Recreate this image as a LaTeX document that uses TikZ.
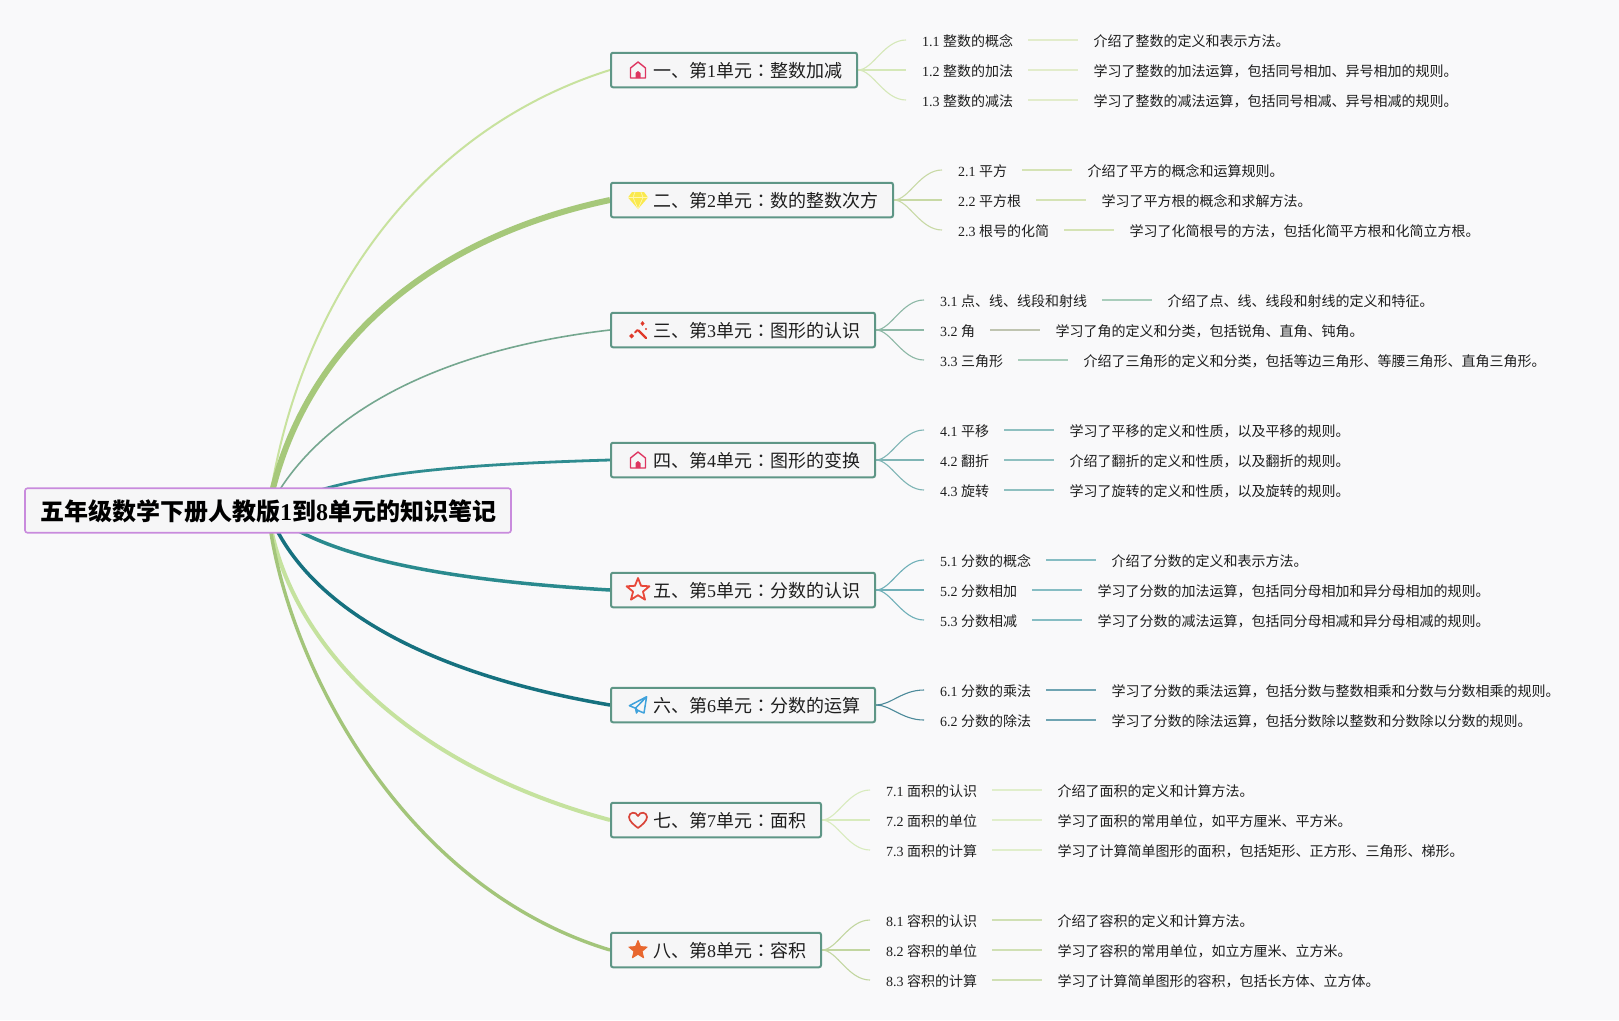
\documentclass[tikz,border=0pt]{standalone}
\usepackage{fontspec}
\setmainfont{Noto Sans CJK SC}
\newfontfamily\lat{Liberation Serif}
\newfontfamily\jpf{Noto Sans CJK JP}
\usetikzlibrary{backgrounds}
\definecolor{bgc}{HTML}{F9F9FA}
\definecolor{boxfill}{HTML}{F6F6F7}
\definecolor{boxline}{HTML}{5E9686}
\definecolor{rootline}{HTML}{C98BDD}
\definecolor{ink}{HTML}{1E1E1E}
\definecolor{bl1}{HTML}{D5E8B8}\definecolor{ln1}{HTML}{E2ECCB}
\definecolor{bl2}{HTML}{C8D9A5}\definecolor{ln2}{HTML}{D5E3B5}
\definecolor{bl3}{HTML}{8DB8A6}\definecolor{ln3}{HTML}{A9CDBB}\definecolor{ln3b}{HTML}{BFC4B0}
\definecolor{bl4}{HTML}{7FB5B5}\definecolor{ln4}{HTML}{8FC0C0}
\definecolor{bl5}{HTML}{70B0B8}\definecolor{ln5}{HTML}{86BDC3}
\definecolor{bl6}{HTML}{4C8A9A}\definecolor{ln6}{HTML}{6FA4B2}
\definecolor{bl7}{HTML}{D8EBBD}\definecolor{ln7}{HTML}{E0EECB}
\definecolor{bl8}{HTML}{C2D6A0}\definecolor{ln8}{HTML}{D0E0B4}
\definecolor{iconred}{HTML}{DE3560}
\definecolor{iconyel}{HTML}{FAE94E}
\definecolor{iconyelp}{HTML}{FFF7B0}
\definecolor{iconwand}{HTML}{E0392A}
\definecolor{iconstar}{HTML}{E8483A}
\definecolor{iconblue}{HTML}{3FA2DC}
\definecolor{iconheart}{HTML}{D9453A}
\definecolor{iconorange}{HTML}{E8672F}
\definecolor{m1}{HTML}{C8E29E}\definecolor{m2}{HTML}{A6C87A}\definecolor{m3}{HTML}{75A78F}
\definecolor{m4}{HTML}{2F8C90}\definecolor{m5}{HTML}{2A8A8E}\definecolor{m6}{HTML}{16717F}
\definecolor{m7}{HTML}{C5E29E}\definecolor{m8}{HTML}{A3C57A}
\tikzset{
  x=1pt,y=-1pt,
  rootbox/.style={draw=rootline,fill=boxfill,line width=1.6pt,rounded corners=2.5pt,inner xsep=15pt,inner ysep=0pt,minimum height=44.5pt,text=black,font=\fontsize{24}{28}\selectfont\bfseries,text height=22pt,text depth=3pt},
  topbox/.style={draw=boxline,fill=boxfill,line width=2pt,rounded corners=2pt,inner xsep=15pt,inner ysep=0pt,minimum height=34.5pt,anchor=west,text=ink,font=\fontsize{18}{22}\selectfont,text height=17pt,text depth=2pt},
  sublabel/.style={anchor=west,inner sep=0pt,text=ink,font=\fontsize{14}{17}\selectfont,text height=15pt,text depth=2pt},
  subdetail/.style={anchor=west,inner sep=0pt,text=ink,font=\fontsize{14}{17}\selectfont,text height=15pt,text depth=2pt},
  mainlink/.style={line cap=butt},
}
\newcommand\col{{\jpf ：}}
% \topunit{name}{y}{text}
\newcommand\topunit[3]{\node[topbox] (#1) at (610,#2) {\hspace*{27pt}#3};}
% \subrow{id}{parent}{yoffset}{num}{label}{detail}{branch colour}{line colour}
\newcommand\subrow[8]{%
  \path (#2.east) ++(64,#3) node[sublabel] (l#1) {{\lat #4 }#5};
  \node[subdetail] (d#1) at ([xshift=80pt]l#1.east) {#6};
  \coordinate (e#1) at ([xshift=-16pt]l#1.west);
  \begin{scope}[on background layer]
  \draw[#7,line width=1.1pt] (#2.east) .. controls +(15,0) and ([xshift=-22pt]e#1) .. (e#1);
  \end{scope}
  \draw[#8,line width=1.3pt] ([xshift=15pt]l#1.east) -- ([xshift=-15pt]d#1.west);
}
\begin{document}
\begin{tikzpicture}
\useasboundingbox (0,0) rectangle (1619,1020);
\begin{scope}[on background layer]
\fill[bgc] (0,0) rectangle (1619,1020);
\end{scope}

\node[rootbox] (root) at (268,510.5) {五年级数学下册人教版{\lat 1}到{\lat 8}单元的知识笔记};

\topunit{u1}{70}{一、第{\lat 1}单元\col 整数加减}
\topunit{u2}{200}{二、第{\lat 2}单元\col 数的整数次方}
\topunit{u3}{330}{三、第{\lat 3}单元\col 图形的认识}
\topunit{u4}{460}{四、第{\lat 4}单元\col 图形的变换}
\topunit{u5}{590}{五、第{\lat 5}单元\col 分数的认识}
\topunit{u6}{705}{六、第{\lat 6}单元\col 分数的运算}
\topunit{u7}{820}{七、第{\lat 7}单元\col 面积}
\topunit{u8}{950}{八、第{\lat 8}单元\col 容积}

\begin{scope}[on background layer]
\draw[mainlink,m1,line width=2pt] (root.center) .. controls (298,295) and (425,128) .. (u1.west);
\draw[mainlink,m2,line width=6pt] (root.center) .. controls (298,355) and (420,240) .. (u2.west);
\draw[mainlink,m3,line width=1.6pt] (root.center) .. controls (310,425) and (420,352) .. (u3.west);
\draw[mainlink,m4,line width=2.8pt] (root.center) .. controls (335,475) and (440,465) .. (u4.west);
\draw[mainlink,m5,line width=3.5pt] (root.center) .. controls (320,556) and (440,580) .. (u5.west);
\draw[mainlink,m6,line width=3.5pt] (root.center) .. controls (300,595) and (405,670) .. (u6.west);
\draw[mainlink,m7,line width=4pt] (root.center) .. controls (285,640) and (405,765) .. (u7.west);
\draw[mainlink,m8,line width=3.4pt] (root.center) .. controls (282,650) and (395,885) .. (u8.west);
\end{scope}

\subrow{11}{u1}{-30}{1.1}{整数的概念}{介绍了整数的定义和表示方法。}{bl1}{ln1}
\subrow{12}{u1}{0}{1.2}{整数的加法}{学习了整数的加法运算，包括同号相加、异号相加的规则。}{bl1}{ln1}
\subrow{13}{u1}{30}{1.3}{整数的减法}{学习了整数的减法运算，包括同号相减、异号相减的规则。}{bl1}{ln1}

\subrow{21}{u2}{-30}{2.1}{平方}{介绍了平方的概念和运算规则。}{bl2}{ln2}
\subrow{22}{u2}{0}{2.2}{平方根}{学习了平方根的概念和求解方法。}{bl2}{ln2}
\subrow{23}{u2}{30}{2.3}{根号的化简}{学习了化简根号的方法，包括化简平方根和化简立方根。}{bl2}{ln2}

\subrow{31}{u3}{-30}{3.1}{点、线、线段和射线}{介绍了点、线、线段和射线的定义和特征。}{bl3}{ln3}
\subrow{32}{u3}{0}{3.2}{角}{学习了角的定义和分类，包括锐角、直角、钝角。}{bl3}{ln3b}
\subrow{33}{u3}{30}{3.3}{三角形}{介绍了三角形的定义和分类，包括等边三角形、等腰三角形、直角三角形。}{bl3}{ln3}

\subrow{41}{u4}{-30}{4.1}{平移}{学习了平移的定义和性质，以及平移的规则。}{bl4}{ln4}
\subrow{42}{u4}{0}{4.2}{翻折}{介绍了翻折的定义和性质，以及翻折的规则。}{bl4}{ln4}
\subrow{43}{u4}{30}{4.3}{旋转}{学习了旋转的定义和性质，以及旋转的规则。}{bl4}{ln4}

\subrow{51}{u5}{-30}{5.1}{分数的概念}{介绍了分数的定义和表示方法。}{bl5}{ln5}
\subrow{52}{u5}{0}{5.2}{分数相加}{学习了分数的加法运算，包括同分母相加和异分母相加的规则。}{bl5}{ln5}
\subrow{53}{u5}{30}{5.3}{分数相减}{学习了分数的减法运算，包括同分母相减和异分母相减的规则。}{bl5}{ln5}

\subrow{61}{u6}{-15}{6.1}{分数的乘法}{学习了分数的乘法运算，包括分数与整数相乘和分数与分数相乘的规则。}{bl6}{ln6}
\subrow{62}{u6}{15}{6.2}{分数的除法}{学习了分数的除法运算，包括分数除以整数和分数除以分数的规则。}{bl6}{ln6}

\subrow{71}{u7}{-30}{7.1}{面积的认识}{介绍了面积的定义和计算方法。}{bl7}{ln7}
\subrow{72}{u7}{0}{7.2}{面积的单位}{学习了面积的常用单位，如平方厘米、平方米。}{bl7}{ln7}
\subrow{73}{u7}{30}{7.3}{面积的计算}{学习了计算简单图形的面积，包括矩形、正方形、三角形、梯形。}{bl7}{ln7}

\subrow{81}{u8}{-30}{8.1}{容积的认识}{介绍了容积的定义和计算方法。}{bl8}{ln8}
\subrow{82}{u8}{0}{8.2}{容积的单位}{学习了容积的常用单位，如立方厘米、立方米。}{bl8}{ln8}
\subrow{83}{u8}{30}{8.3}{容积的计算}{学习了计算简单图形的容积，包括长方体、立方体。}{bl8}{ln8}

% icons
\begin{scope}[shift={(638,70)},line join=round]
\draw[iconred,line width=1.4pt] (-7.5,8)--(-7.5,-2)--(0,-8)--(7.5,-2)--(7.5,8)--cycle;
\fill[iconred] (-2.5,8)--(-2.5,3)--(0,1)--(2.5,3)--(2.5,8)--cycle;
\end{scope}
\begin{scope}[shift={(638,460)},line join=round]
\draw[iconred,line width=1.4pt] (-7.5,8)--(-7.5,-2)--(0,-8)--(7.5,-2)--(7.5,8)--cycle;
\fill[iconred] (-2.5,8)--(-2.5,3)--(0,1)--(2.5,3)--(2.5,8)--cycle;
\end{scope}
\begin{scope}[shift={(638,200)},line join=round]
\fill[iconyel] (-6,-8)--(6,-8)--(10,-2.5)--(0,9)--(-10,-2.5)--cycle;
\draw[iconyelp,line width=.7pt] (-10,-2.5)--(10,-2.5) (-3,-8)--(-5,-2.5)--(0,9)--(5,-2.5)--(3,-8);
\end{scope}
\begin{scope}[shift={(638,330)},line cap=round]
\draw[iconwand,line width=2.4pt] (.5,.5)--(8,8);
\draw[iconwand,line width=1.8pt] (-3,2.5)--(-.5,0);
\fill[iconwand] (-9,6)--(-6.5,3.5)--(-4,6)--(-6.5,8.5)--cycle;
\fill[iconwand] (2.5,-6.5)--(4.5,-9)--(6.5,-6.5)--(4.5,-4)--cycle;
\fill[iconwand] (7,-1)--(8,-2.2)--(9,-1)--(8,.2)--cycle;
\end{scope}
\begin{scope}[shift={(638,590)},line join=round]
\draw[iconstar,line width=1.8pt] (-90:12)--(-54:5.2)--(-18:12)--(18:5.2)--(54:12)--(90:5.2)--(126:12)--(162:5.2)--(198:12)--(234:5.2)--cycle;
\end{scope}
\begin{scope}[shift={(638,705)},line join=round]
\draw[iconblue,line width=1.5pt] (8.6,-8.3)--(-8.6,.7)--(-2.5,3.2)--(8.6,-8.3)--(6,8)--(0,5.5)--(-2.5,3.2)--(-1.5,8)--(0,5.5);
\end{scope}
\begin{scope}[shift={(638,820)},line join=round]
\draw[iconheart,line width=1.7pt] (0,8) .. controls (-4,5) and (-9,1) .. (-9,-3) .. controls (-9,-8) and (-2,-9) .. (0,-4) .. controls (2,-9) and (9,-8) .. (9,-3) .. controls (9,1) and (4,5) .. (0,8) -- cycle;
\end{scope}
\begin{scope}[shift={(638,950)},line join=round]
\fill[iconorange,draw=iconorange,line width=1pt] (-90:9.5)--(-54:4.2)--(-18:9.5)--(18:4.2)--(54:9.5)--(90:4.2)--(126:9.5)--(162:4.2)--(198:9.5)--(234:4.2)--cycle;
\end{scope}
\end{tikzpicture}
\end{document}
